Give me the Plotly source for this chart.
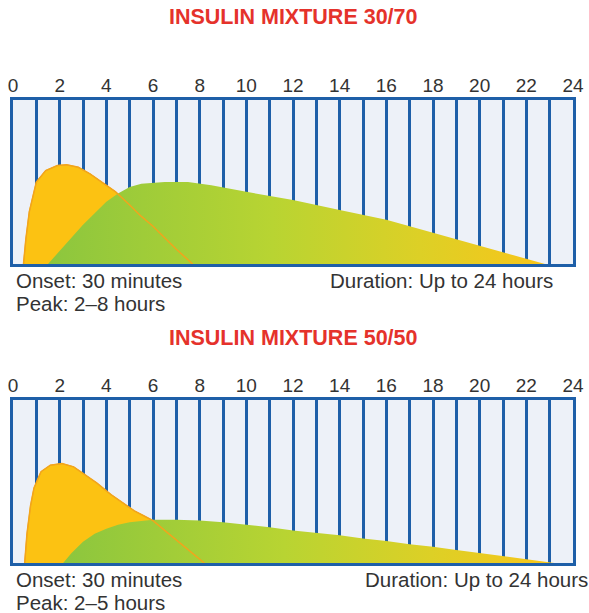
import plotly.graph_objects as go

hours = list(range(0, 25))
hour_labels = [str(h) if h % 2 == 0 else "" for h in hours]

# Panel 1: Insulin mixture 30/70 (relative activity, 0..1 of box height)
rapid1_x = [0.45, 0.55, 0.7, 1.0, 1.4, 1.9, 2.3, 2.8, 3.3, 3.8, 4.4, 5.0, 5.5, 6.0, 6.5, 7.0, 7.7]
rapid1_y = [0.0, 0.15, 0.32, 0.5, 0.57, 0.6, 0.605, 0.59, 0.55, 0.5, 0.44, 0.36, 0.29, 0.23, 0.16, 0.09, 0.0]
inter1_x = [1.5, 2.0, 2.5, 3.0, 3.5, 4.0, 4.5, 5.0, 5.5, 6.5, 7.5, 8.5, 10, 12, 14, 16, 17, 18, 19, 20, 21, 22, 22.8]
inter1_y = [0.0, 0.08, 0.16, 0.24, 0.31, 0.38, 0.43, 0.47, 0.49, 0.5, 0.5, 0.48, 0.44, 0.39, 0.33, 0.27, 0.23, 0.19, 0.15, 0.11, 0.07, 0.03, 0.0]

# Panel 2: Insulin mixture 50/50
rapid2_x = [0.5, 0.6, 0.75, 0.9, 1.2, 1.6, 2.1, 2.6, 3.0, 3.6, 4.2, 4.7, 5.2, 5.6, 6.0, 6.5, 7.0, 7.5, 8.2]
rapid2_y = [0.0, 0.18, 0.35, 0.46, 0.56, 0.6, 0.61, 0.59, 0.55, 0.49, 0.42, 0.37, 0.32, 0.29, 0.26, 0.2, 0.14, 0.08, 0.0]
inter2_x = [2.15, 2.5, 3.0, 3.5, 4.0, 4.5, 5.0, 6.0, 7.0, 8.0, 9, 10, 11, 12, 13, 14, 15, 16, 17, 18, 19, 20, 21, 22, 23.2]
inter2_y = [0.0, 0.06, 0.13, 0.18, 0.21, 0.235, 0.25, 0.265, 0.265, 0.26, 0.25, 0.235, 0.22, 0.2, 0.185, 0.17, 0.15, 0.135, 0.115, 0.1, 0.08, 0.06, 0.04, 0.02, 0.0]

titles = ["INSULIN MIXTURE 30/70", "INSULIN MIXTURE 50/50"]
onset_texts = ["Onset: 30 minutes", "Onset: 30 minutes"]
peak_texts = ["Peak: 2–8 hours", "Peak: 2–5 hours"]
duration_texts = ["Duration: Up to 24 hours", "Duration: Up to 24 hours"]

W, H = 589, 613
FONT = "Arial, 'Liberation Sans', sans-serif"
BLUE = "#1e5fa8"
YELLOW = "#fcc212"
ORANGE = "#f2a51c"
TEXT = "#333333"
green_scale = [[0, "#8cc63e"], [0.45, "#b8d432"], [0.75, "#ddd026"], [1, "#f8c51a"]]

def py(pix):
    return (H - pix) / H

x_dom = [13 / W, 573 / W]
panels = [
    dict(top=100, bottom=264, xa="x", ya="y", rx=rapid1_x, ry=rapid1_y, ix=inter1_x, iy=inter1_y),
    dict(top=400, bottom=563, xa="x2", ya="y2", rx=rapid2_x, ry=rapid2_y, ix=inter2_x, iy=inter2_y),
]

fig = go.Figure()
for p in panels:
    fig.add_trace(go.Scatter(x=p["rx"], y=p["ry"], mode="lines", fill="tozeroy",
                             fillcolor=YELLOW, line=dict(color=ORANGE, width=1),
                             xaxis=p["xa"], yaxis=p["ya"], hoverinfo="skip", showlegend=False))
    fig.add_trace(go.Scatter(x=p["ix"], y=p["iy"], mode="lines", fill="tozeroy",
                             fillgradient=dict(type="horizontal", colorscale=green_scale),
                             line=dict(color="rgba(0,0,0,0)", width=0),
                             xaxis=p["xa"], yaxis=p["ya"], hoverinfo="skip", showlegend=False))
    fig.add_trace(go.Scatter(x=p["rx"], y=p["ry"], mode="lines",
                             line=dict(color=ORANGE, width=1.5),
                             xaxis=p["xa"], yaxis=p["ya"], hoverinfo="skip", showlegend=False))

axis_x = dict(range=[0, 24], tickvals=hours, ticktext=hour_labels, side="top",
              showgrid=True, gridcolor=BLUE, gridwidth=3, zeroline=False,
              showline=True, linecolor=BLUE, linewidth=3, mirror=True,
              ticks="", ticklabelstandoff=-3, automargin=False,
              tickfont=dict(family=FONT, size=19, color=TEXT), fixedrange=True)
axis_y = dict(range=[0, 1], showgrid=False, zeroline=False, showticklabels=False, automargin=False,
              showline=True, linecolor=BLUE, linewidth=3, mirror=True, fixedrange=True)

fig.update_layout(
    width=W, height=H, margin=dict(l=0, r=0, t=0, b=0, pad=0),
    paper_bgcolor="white", plot_bgcolor="#edf1f8",
    xaxis=dict(axis_x, domain=x_dom, anchor="y"),
    yaxis=dict(axis_y, domain=[py(264), py(100)], anchor="x"),
    xaxis2=dict(axis_x, domain=x_dom, anchor="y2"),
    yaxis2=dict(axis_y, domain=[py(563), py(400)], anchor="x2"),
)

annotations = []
title_y = [17, 338]
for i, p in enumerate(panels):
    annotations.append(dict(text="<b>" + titles[i] + "</b>", x=293 / W, y=py(title_y[i]),
                            xref="paper", yref="paper", xanchor="center", yanchor="middle",
                            showarrow=False, font=dict(family=FONT, size=21.5, color="#e5322b")))
    annotations.append(dict(text=onset_texts[i], x=14 / W, y=py(p["bottom"] + 16),
                            xref="paper", yref="paper", xanchor="left", yanchor="middle",
                            showarrow=False, font=dict(family=FONT, size=20.5, color=TEXT)))
    annotations.append(dict(text=peak_texts[i], x=14 / W, y=py(p["bottom"] + 39),
                            xref="paper", yref="paper", xanchor="left", yanchor="middle",
                            showarrow=False, font=dict(family=FONT, size=20.5, color=TEXT)))
dur_x = [555, 590]
for i, p in enumerate(panels):
    annotations.append(dict(text=duration_texts[i], x=dur_x[i] / W, y=py(p["bottom"] + 16),
                            xref="paper", yref="paper", xanchor="right", yanchor="middle",
                            showarrow=False, font=dict(family=FONT, size=20.5, color=TEXT)))
fig.update_layout(annotations=annotations)

fig.write_html("out.html", config={"displayModeBar": False},
               post_script="document.body.style.margin='0';document.body.style.overflow='hidden';")
